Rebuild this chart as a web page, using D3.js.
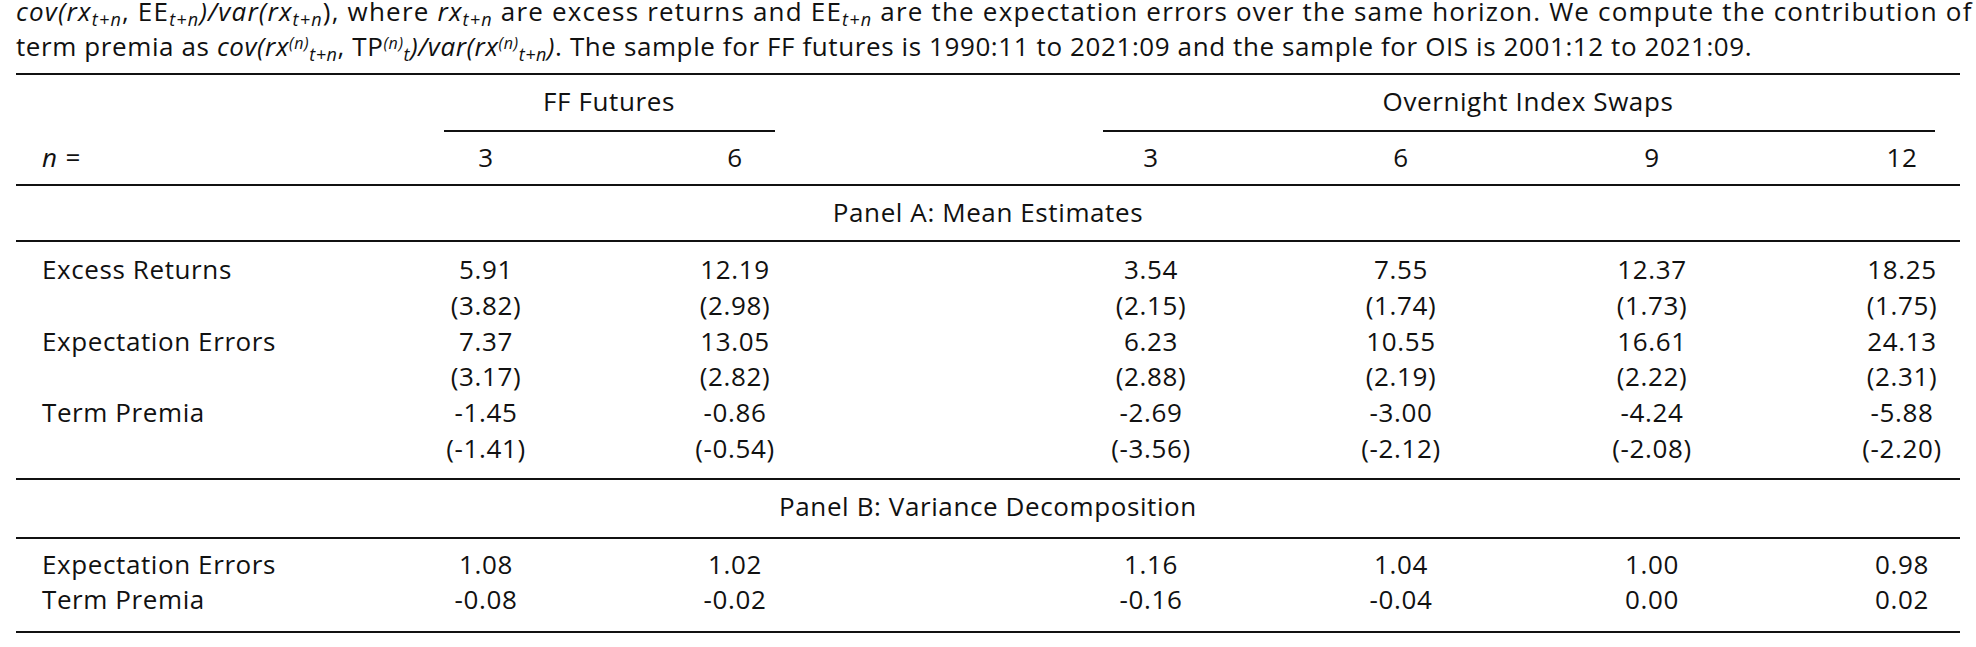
<!DOCTYPE html><html><head><meta charset="utf-8">
<script src="https://cdn.jsdelivr.net/npm/d3@7/dist/d3.min.js"></script>
<style>body{margin:0;background:#fff}text{font-family:"Open Sans",sans-serif;fill:#111;letter-spacing:0.6px}</style></head><body>
<svg id="c" width="1976" height="647"></svg>
<script>
const groups = ["FF Futures","Overnight Index Swaps"];
const horizons = ["3","6","3","6","9","12"];
const rowLabelsA = ["Excess Returns","Expectation Errors","Term Premia"];
const meansA = [["5.91","12.19","3.54","7.55","12.37","18.25"],["7.37","13.05","6.23","10.55","16.61","24.13"],["-1.45","-0.86","-2.69","-3.00","-4.24","-5.88"]];
const seA = [["(3.82)","(2.98)","(2.15)","(1.74)","(1.73)","(1.75)"],["(3.17)","(2.82)","(2.88)","(2.19)","(2.22)","(2.31)"],["(-1.41)","(-0.54)","(-3.56)","(-2.12)","(-2.08)","(-2.20)"]];
const rowLabelsB = ["Expectation Errors","Term Premia"];
const valuesB = [["1.08","1.02","1.16","1.04","1.00","0.98"],["-0.08","-0.02","-0.16","-0.04","0.00","0.02"]];

const svg = d3.select("#c");
const fs = 26;
const x = d3.scaleOrdinal().domain(d3.range(6)).range([486,735,1151,1401,1652,1902]);
const rule = (y,x1,x2,w)=>svg.append("line").attr("x1",x1).attr("x2",x2).attr("y1",y).attr("y2",y).attr("stroke","#111").attr("stroke-width",w);
const txt = (s,xx,y,anchor="middle")=>svg.append("text").attr("x",xx).attr("y",y).attr("font-size",fs).attr("text-anchor",anchor).text(s);

function rich(y, parts, len){
  const t = svg.append("text").attr("x",16).attr("y",y).attr("font-size",fs);
  if(len) t.attr("textLength",len).attr("lengthAdjust","spacing");
  parts.forEach(p=>{
    const s=t.append("tspan").text(p[0]);
    if(p[1]==="i") s.attr("font-style","italic");
    if(p[1]==="sub") s.attr("font-size",18).attr("baseline-shift","-30%").attr("font-style","italic");
    if(p[1]==="sup") s.attr("font-size",16).attr("baseline-shift","45%").attr("font-style","italic");
  });
}
rich(21,[["cov(rx","i"],["t+n","sub"],[", EE"],["t+n","sub"],[")/","i"],["var(rx","i"],["t+n","sub"],["), where "],["rx","i"],["t+n","sub"],[" are excess returns and EE"],["t+n","sub"],[" are the expectation errors over the same horizon. We compute the contribution of"]],1956);
rich(56,[["term premia as "],["cov(rx","i"],["(n)","sup"],["t+n","sub"],[", TP"],["(n)","sup"],["t","sub"],[")/","i"],["var(rx","i"],["(n)","sup"],["t+n","sub"],[")","i"],[". The sample for FF futures is 1990:11 to 2021:09 and the sample for OIS is 2001:12 to 2021:09."]]);

rule(74,16,1960,2);
txt(groups[0],609,111); txt(groups[1],1528,111);
rule(131,444,775,1.8); rule(131,1103,1935,1.8);
svg.append("text").attr("x",42).attr("y",167).attr("font-size",fs).attr("font-style","italic").text("n =");
horizons.forEach((h,i)=>txt(h,x(i),167));
rule(185,16,1960,2);
txt("Panel A: Mean Estimates",988,222);
rule(241,16,1960,1.8);
const yA = d3.scalePoint().domain(d3.range(6)).range([279,458]);
rowLabelsA.forEach((lab,r)=>{
  txt(lab,42,yA(2*r),"start");
  meansA[r].forEach((v,i)=>txt(v,x(i),yA(2*r)));
  seA[r].forEach((v,i)=>txt(v,x(i),yA(2*r+1)));
});
rule(479,16,1960,1.8);
txt("Panel B: Variance Decomposition",988,516);
rule(538,16,1960,1.8);
const yB = d3.scalePoint().domain([0,1]).range([574,609]);
rowLabelsB.forEach((lab,r)=>{
  txt(lab,42,yB(r),"start");
  valuesB[r].forEach((v,i)=>txt(v,x(i),yB(r)));
});
rule(632,16,1960,2);
</script></body></html>
